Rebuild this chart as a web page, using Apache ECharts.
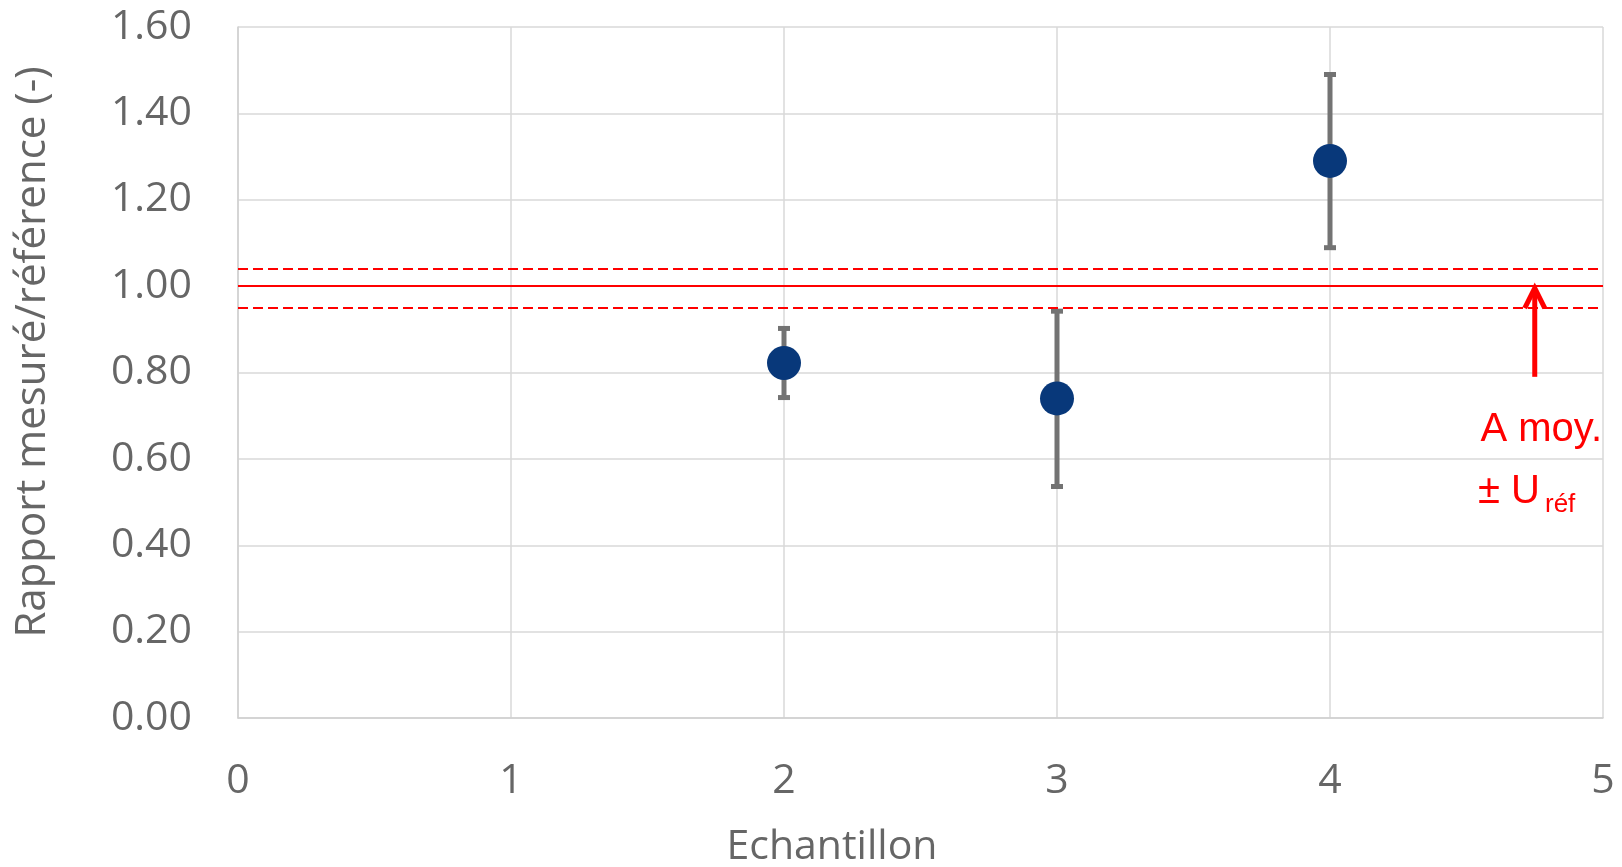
<!DOCTYPE html>
<html>
<head>
<meta charset="utf-8">
<script src="https://cdn.jsdelivr.net/npm/echarts@6/dist/echarts.min.js"></script>
<style>html,body{margin:0;padding:0;background:#fff}#c{width:1622px;height:867px}</style>
</head>
<body>
<div id="c"></div>
<script>
// ---- data ----
const samples = [2, 3, 4];
const ratios = [0.822, 0.740, 1.290];
const errLow = [0.742, 0.536, 1.089];
const errHigh = [0.902, 0.942, 1.490];
const refMean = 1.0;
const refLower = 0.955;
const refUpper = 1.045;
const xTicks = [0, 1, 2, 3, 4, 5];
const yTicks = [0, 0.2, 0.4, 0.6, 0.8, 1.0, 1.2, 1.4, 1.6];
const arrowX = 4.75;
const arrowFrom = 0.79;
const arrowTo = 1.0;
const xTitle = 'Echantillon';
const yTitle = 'Rapport mesuré/référence (-)';

const FONT = '"Open Sans", sans-serif';
const GREY_TXT = '#666666';
const RED = '#ff0000';

const chart = echarts.init(document.getElementById('c'), null, {renderer: 'canvas'});

const scatterData = samples.map((x, i) => [x, ratios[i]]);
const errData = samples.map((x, i) => [x, errLow[i], errHigh[i]]);

const option = {
  animation: false,
  backgroundColor: '#ffffff',
  grid: {left: 238, right: 19, top: 27, bottom: 149, containLabel: false},
  xAxis: {
    type: 'value', min: xTicks[0], max: xTicks[xTicks.length - 1], interval: 1,
    axisLine: {show: true, lineStyle: {color: '#d0d0d0', width: 1.5}},
    axisTick: {show: false},
    splitLine: {show: true, lineStyle: {color: '#d9d9d9', width: 1.5}},
    axisLabel: {color: GREY_TXT, fontFamily: FONT, fontSize: 41, margin: 43}
  },
  yAxis: {
    type: 'value', min: yTicks[0], max: yTicks[yTicks.length - 1], interval: 0.2,
    axisLine: {show: true, lineStyle: {color: '#d0d0d0', width: 1.5}},
    axisTick: {show: false},
    splitLine: {show: true, lineStyle: {color: '#d9d9d9', width: 1.5}},
    axisLabel: {color: GREY_TXT, fontFamily: FONT, fontSize: 41, margin: 46,
      formatter: v => v.toFixed(2)}
  },
  series: [
    {
      type: 'line', data: [], silent: true,
      markLine: {
        silent: true, symbol: ['none', 'none'], label: {show: false},
        data: [
          {yAxis: refMean, lineStyle: {color: RED, width: 2, type: 'solid'}},
          {yAxis: refUpper, lineStyle: {color: RED, width: 2.2, type: [10, 5]}},
          {yAxis: refLower, lineStyle: {color: RED, width: 2.2, type: [10, 5]}}
        ]
      },
      z: 3
    },
    {
      type: 'custom', data: errData, z: 4,
      renderItem: function (params, api) {
        const x = api.value(0);
        const lo = api.coord([x, api.value(1)]);
        const hi = api.coord([x, api.value(2)]);
        const capW = 6;
        const st = {stroke: '#737373', lineWidth: 5};
        return {
          type: 'group',
          children: [
            {type: 'line', shape: {x1: lo[0], y1: lo[1], x2: hi[0], y2: hi[1]}, style: st},
            {type: 'line', shape: {x1: hi[0] - capW, y1: hi[1], x2: hi[0] + capW, y2: hi[1]}, style: st},
            {type: 'line', shape: {x1: lo[0] - capW, y1: lo[1], x2: lo[0] + capW, y2: lo[1]}, style: st}
          ]
        };
      }
    },
    {
      type: 'scatter', data: scatterData, symbol: 'circle', symbolSize: 34,
      itemStyle: {color: '#08387a', opacity: 1}, z: 5
    }
  ]
};
chart.setOption(option);

// annotations placed through the chart's own scales
const tip = chart.convertToPixel({gridIndex: 0}, [arrowX, arrowTo]);
const tail = chart.convertToPixel({gridIndex: 0}, [arrowX, arrowFrom]);
const plotRight = chart.convertToPixel({gridIndex: 0}, [xTicks[xTicks.length - 1], 0])[0];

chart.setOption({
  graphic: [
    {type: 'line', shape: {x1: tail[0], y1: tail[1], x2: tip[0], y2: tip[1] + 3},
      style: {stroke: RED, lineWidth: 5}, z: 10},
    {type: 'polyline', shape: {points: [[tip[0] - 10, tip[1] + 22], [tip[0], tip[1] + 2], [tip[0] + 10, tip[1] + 22]]},
      style: {stroke: RED, lineWidth: 5, fill: null, lineJoin: 'miter'}, z: 10},
    {type: 'text', x: plotRight - 1, y: 430, z: 10,
      style: {text: 'A moy.', fill: RED, font: '40px "Liberation Sans", Arial, sans-serif',
        align: 'right', verticalAlign: 'middle'}},
    {type: 'text', x: 1478, y: 492, z: 10,
      style: {text: '± U', fill: RED, font: '40px "Liberation Sans", Arial, sans-serif',
        align: 'left', verticalAlign: 'middle'}},
    {type: 'text', x: 1545, y: 505, z: 10,
      style: {text: 'réf', fill: RED, font: '26px "Liberation Sans", Arial, sans-serif',
        align: 'left', verticalAlign: 'middle'}},
    {type: 'text', x: 832, y: 847, z: 10,
      style: {text: xTitle, fill: GREY_TXT, font: '41px ' + FONT,
        align: 'center', verticalAlign: 'middle'}},
    {type: 'text', x: 33, y: 352, rotation: Math.PI / 2, originX: 0, originY: 0, z: 10,
      style: {text: yTitle, fill: GREY_TXT, font: '42px ' + FONT,
        align: 'center', verticalAlign: 'middle'}}
  ]
});
</script>
</body>
</html>
